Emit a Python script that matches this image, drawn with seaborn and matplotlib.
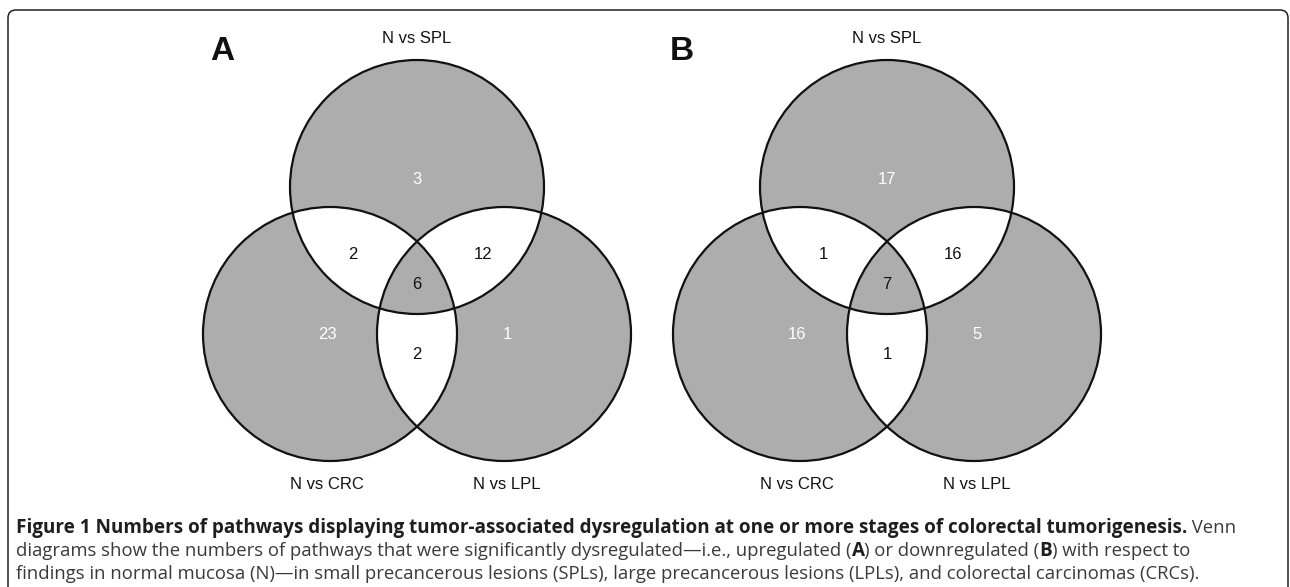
import numpy as np
import matplotlib
matplotlib.use("Agg")
import matplotlib.pyplot as plt
import seaborn as sns
from matplotlib.patches import Circle, Polygon, PathPatch
from matplotlib.path import Path

# ---- data -------------------------------------------------------------
panel_names = ["A", "B"]
set_names = ["N vs SPL", "N vs CRC", "N vs LPL"]
# region order: SPL only, CRC only, LPL only, SPL&CRC, SPL&LPL, CRC&LPL, all three
region_sets = [(0,), (1,), (2,), (0, 1), (0, 2), (1, 2), (0, 1, 2)]
counts_up = [3, 23, 1, 2, 12, 2, 6]
counts_down = [17, 16, 5, 1, 16, 1, 7]

caption_lines = [
    [("Figure 1 Numbers of pathways displaying tumor-associated dysregulation at one or more "
      "stages of colorectal tumorigenesis.", True), (" Venn", False)],
    [("diagrams show the numbers of pathways that were significantly dysregulated\u2014i.e., "
      "upregulated (", False), ("A", True), (") or downregulated (", False), ("B", True),
     (") with respect to", False)],
    [("findings in normal mucosa (N)\u2014in small precancerous lesions (SPLs), large precancerous "
      "lesions (LPLs), and colorectal carcinomas (CRCs).", False)],
]

# ---- layout (pixels) --------------------------------------------------
W, H = 1290, 587
R = 127
origin_x = [417, 887]
origin_y = 187
letter_x = [222, 682]
circle_off = [(0, 0), (-87, 147), (87, 147)]
region_off = [(0, -9), (-90, 146), (90, 146), (-64, 66), (66, 66), (0, 166), (0, 96)]
name_off = [(0, -150), (-90, 296), (90, 296)]
GRAY = "#adadad"

sns.set_theme(style="white")
plt.rcParams["font.family"] = ["Liberation Sans", "DejaVu Sans"]

fig = plt.figure(figsize=(W / 100, H / 100), dpi=100)
ax = fig.add_axes([0, 0, 1, 1])
ax.set_xlim(0, W)
ax.set_ylim(H, 0)
ax.axis("off")


def circle_pts(cx, cy, n=2000):
    t = np.linspace(0, 2 * np.pi, n, endpoint=False)
    return np.column_stack([cx + R * np.cos(t), cy + R * np.sin(t)])


def intersection(ids, centers):
    pts = []
    for i in ids:
        p = circle_pts(*centers[i])
        ok = np.ones(len(p), bool)
        for j in ids:
            if j != i:
                ok &= np.hypot(p[:, 0] - centers[j][0], p[:, 1] - centers[j][1]) <= R
        pts.append(p[ok])
    pts = np.vstack(pts)
    m = pts.mean(axis=0)
    order = np.argsort(np.arctan2(pts[:, 1] - m[1], pts[:, 0] - m[0]))
    return pts[order]


for k, counts in enumerate([counts_up, counts_down]):
    ox = origin_x[k]
    centers = [(ox + dx, origin_y + dy) for dx, dy in circle_off]
    for c in centers:
        ax.add_patch(Circle(c, R, facecolor=GRAY, edgecolor="none", zorder=1))
    for ids in [(0, 1), (0, 2), (1, 2)]:
        ax.add_patch(Polygon(intersection(ids, centers), closed=True,
                             facecolor="white", edgecolor="none", zorder=2))
    ax.add_patch(Polygon(intersection((0, 1, 2), centers), closed=True,
                         facecolor=GRAY, edgecolor="none", zorder=3))
    for c in centers:
        ax.add_patch(Circle(c, R, fill=False, edgecolor="#111111", lw=1.6, zorder=4))

    for (dx, dy), n, ids in zip(region_off, counts, region_sets):
        col = "white" if len(ids) == 1 else "#111111"
        ax.text(ox + dx, origin_y + dy + 6, str(n), ha="center", va="baseline",
                fontsize=12, color=col, zorder=5)
    for (dx, dy), name in zip(name_off, set_names):
        ax.text(ox + dx, origin_y + dy + 6, name, ha="center", va="baseline",
                fontsize=12, color="#111111")
    ax.text(letter_x[k], 60, panel_names[k], ha="center", va="baseline",
            fontsize=24, fontweight="bold", color="#111111")

# frame with rounded top corners
verts = [(8, 600), (8, 18), (8, 10), (16, 10), (1280, 10), (1288, 10), (1288, 18), (1288, 600)]
codes = [Path.MOVETO, Path.LINETO, Path.CURVE3, Path.CURVE3, Path.LINETO,
         Path.CURVE3, Path.CURVE3, Path.LINETO]
ax.add_patch(PathPatch(Path(verts, codes), fill=False, edgecolor="#222222", lw=1.1))

# caption, written run by run
cap_font = ["Open Sans", "DejaVu Sans"]
renderer = fig.canvas.get_renderer()


def run_width(s, bold, size):
    t1 = ax.text(0, 0, s + "|", fontsize=size, family=cap_font,
                 fontweight="bold" if bold else "normal")
    t2 = ax.text(0, 0, "|", fontsize=size, family=cap_font,
                 fontweight="bold" if bold else "normal")
    w = t1.get_window_extent(renderer).width - t2.get_window_extent(renderer).width
    t1.remove()
    t2.remove()
    return w


# fit sizes so the caption lines span the same widths as in the figure
base = 10
bold_size = base * 1171 / run_width(caption_lines[0][0][0], True, base)
reg_size = base * 1180 / run_width(caption_lines[2][0][0], False, base)

cap_x = 16
for line, y in zip(caption_lines, [533, 556, 579]):
    x = cap_x
    for s, b in line:
        size = bold_size if b else reg_size
        ax.text(x, y, s, fontsize=size, family=cap_font, va="baseline",
                fontweight="bold" if b else "normal",
                color="#1e1e1e" if b else "#3a3a3a")
        x += run_width(s, b, size)

fig.savefig("out.png", dpi=100)
